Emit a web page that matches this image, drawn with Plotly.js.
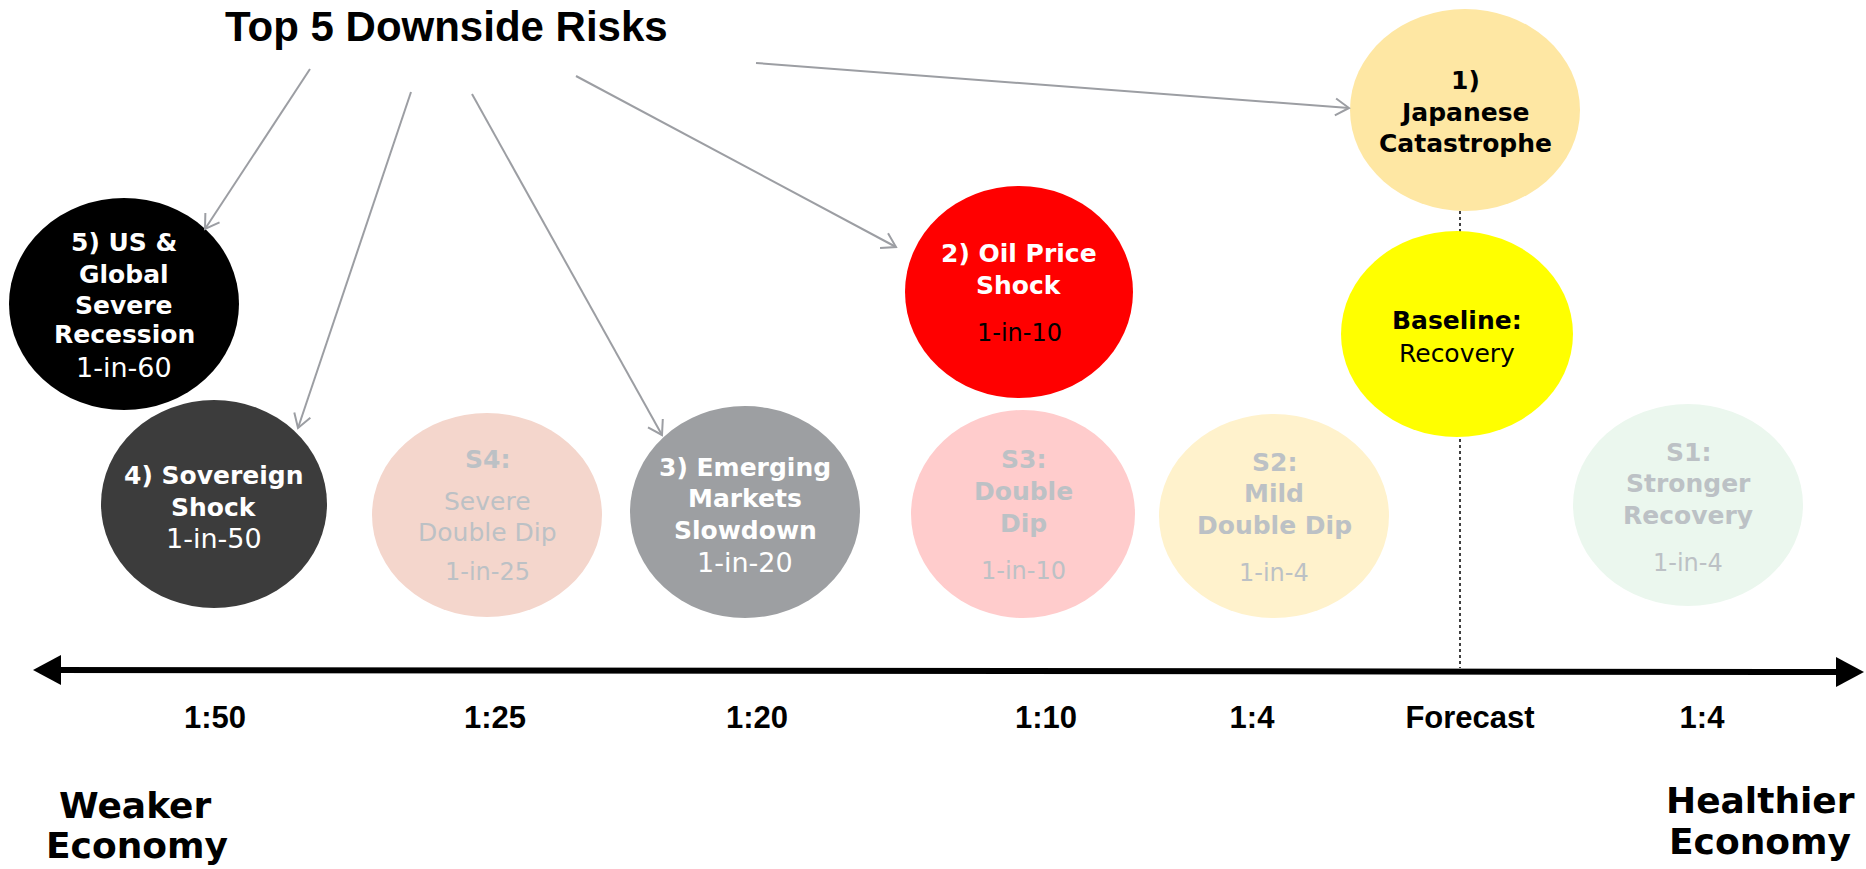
<!DOCTYPE html>
<html>
<head>
<meta charset="utf-8">
<script src="https://cdn.plot.ly/plotly-3.0.1.min.js"></script>
<style>
  html, body { margin: 0; padding: 0; background: #ffffff; overflow: hidden; }
  #chart { width: 1866px; height: 869px; }
</style>
</head>
<body>
<div id="chart"></div>
<script>
// ---- Data -------------------------------------------------------------
const chartTitle = 'Top 5 Downside Risks';

// Odds marked along the scale, weaker economy on the left
const oddsTicks = ['1:50', '1:25', '1:20', '1:10', '1:4', 'Forecast', '1:4'];

// Scenario names (one entry per line)
const scenarioNames = [
  ['4) Sovereign', 'Shock'],
  ['5) US &', 'Global', 'Severe', 'Recession'],
  ['S4:', 'Severe', 'Double Dip'],
  ['3) Emerging', 'Markets', 'Slowdown'],
  ['2) Oil Price', 'Shock'],
  ['S3:', 'Double', 'Dip'],
  ['S2:', 'Mild', 'Double Dip'],
  ['1)', 'Japanese', 'Catastrophe'],
  ['Baseline:', 'Recovery'],
  ['S1:', 'Stronger', 'Recovery']
];

// Probability of each scenario
const scenarioOdds = ['1-in-50', '1-in-60', '1-in-25', '1-in-20', '1-in-10', '1-in-10', '1-in-4', '', '', '1-in-4'];

// Labels at the two ends of the scale
const scaleEnds = [['Weaker', 'Economy'], ['Healthier', 'Economy']];

// ---- Layout (pixel space: x 0..1866 left to right, y 0..869 top to bottom)
const W = 1866, H = 869;
const tickX = [215, 495, 757, 1046, 1252, 1470, 1702];
const scaleY = [670, 672];           // left and right ends of the scale arrow
const scaleX = [33, 1864];
const forecastX = 1460;

const GREY_TXT = '#bcc1c5';
const bubbleStyle = [
  { cx: 214,  cy: 504, rx: 113, ry: 104, fill: '#3c3c3c', ink: '#ffffff', oddsInk: '#ffffff', bold: 2, lineY: [475, 507], oddsY: 538, oddsSize: 27 },
  { cx: 124,  cy: 304, rx: 115, ry: 106, fill: '#000000', ink: '#ffffff', oddsInk: '#ffffff', bold: 4, lineY: [242, 274, 305, 334], oddsY: 367, oddsSize: 27 },
  { cx: 487,  cy: 515, rx: 115, ry: 102, fill: '#f4d6cc', ink: GREY_TXT,  oddsInk: GREY_TXT,  bold: 1, lineY: [459, 501, 532], oddsY: 572, oddsSize: 24 },
  { cx: 745,  cy: 512, rx: 115, ry: 106, fill: '#9d9fa2', ink: '#ffffff', oddsInk: '#ffffff', bold: 3, lineY: [467, 498, 530], oddsY: 562, oddsSize: 27 },
  { cx: 1019, cy: 292, rx: 114, ry: 106, fill: '#ff0000', ink: '#ffffff', oddsInk: '#000000', bold: 2, lineY: [253, 285], oddsY: 333, oddsSize: 24 },
  { cx: 1023, cy: 514, rx: 112, ry: 104, fill: '#ffcccc', ink: GREY_TXT,  oddsInk: GREY_TXT,  bold: 3, lineY: [459, 491, 523], oddsY: 571, oddsSize: 24 },
  { cx: 1274, cy: 516, rx: 115, ry: 102, fill: '#fff2cc', ink: GREY_TXT,  oddsInk: GREY_TXT,  bold: 3, lineY: [462, 493, 525], oddsY: 573, oddsSize: 24 },
  { cx: 1465, cy: 110, rx: 115, ry: 101, fill: '#fee7a3', ink: '#000000', oddsInk: '#000000', bold: 3, lineY: [80, 112, 143], oddsY: null, oddsSize: 24 },
  { cx: 1457, cy: 334, rx: 116, ry: 103, fill: '#ffff00', ink: '#000000', oddsInk: '#000000', bold: 1, lineY: [320, 353], oddsY: null, oddsSize: 24 },
  { cx: 1688, cy: 505, rx: 115, ry: 101, fill: '#ebf7ee', ink: GREY_TXT,  oddsInk: GREY_TXT,  bold: 3, lineY: [452, 483, 515], oddsY: 563, oddsSize: 24 }
];

// Pointers from the heading to the five risk bubbles
const riskPointers = [
  { from: [310, 69], to: [205, 229] },
  { from: [411, 92], to: [298, 428] },
  { from: [472, 94], to: [662, 435] },
  { from: [576, 76], to: [896, 247] },
  { from: [756, 63], to: [1349, 108] }
];

const endLabelPos = [
  { x: [135, 137], y: [805, 845] },
  { x: [1760, 1760], y: [800, 841] }
];

const BUBBLE_FONT = 'DejaVu Sans, Verdana, sans-serif';
const HEAD_FONT = 'Liberation Sans, Arial, sans-serif';

// ---- Shapes -------------------------------------------------------------
const shapes = [];

// dotted forecast marker
shapes.push({
  type: 'line', xref: 'x', yref: 'y', layer: 'below',
  x0: forecastX, x1: forecastX, y0: 211, y1: scaleY[0] - 2,
  line: { color: '#000000', width: 1.5, dash: 'dot' }
});

bubbleStyle.forEach(b => {
  shapes.push({
    type: 'circle', xref: 'x', yref: 'y', layer: 'below',
    x0: b.cx - b.rx, x1: b.cx + b.rx, y0: b.cy - b.ry, y1: b.cy + b.ry,
    fillcolor: b.fill, line: { width: 0 }
  });
});

// open chevron at the end of a pointer: two arms swept back from the tip
function chevron(from, to, len, deg) {
  const dx = to[0] - from[0], dy = to[1] - from[1];
  const d = Math.hypot(dx, dy);
  const bx = -dx / d, by = -dy / d;          // unit vector pointing back along the line
  const a = deg * Math.PI / 180;
  const arm = s => {
    const c = Math.cos(s * a), sn = Math.sin(s * a);
    return [to[0] + len * (bx * c - by * sn), to[1] + len * (bx * sn + by * c)];
  };
  const p1 = arm(1), p2 = arm(-1);
  return 'M' + p1[0] + ',' + p1[1] + ' L' + to[0] + ',' + to[1] + ' L' + p2[0] + ',' + p2[1];
}
riskPointers.forEach(p => {
  shapes.push({
    type: 'line', xref: 'x', yref: 'y',
    x0: p.from[0], y0: p.from[1], x1: p.to[0], y1: p.to[1],
    line: { color: '#9c9ea3', width: 2 }
  });
  shapes.push({
    type: 'path', xref: 'x', yref: 'y',
    path: chevron(p.from, p.to, 16, 32),
    line: { color: '#9c9ea3', width: 2 }
  });
});

// the scale: thick double-headed arrow
shapes.push({
  type: 'line', xref: 'x', yref: 'y',
  x0: scaleX[0] + 20, y0: scaleY[0], x1: scaleX[1] - 20, y1: scaleY[1],
  line: { color: '#000000', width: 6 }
});
shapes.push({
  type: 'path', xref: 'x', yref: 'y', fillcolor: '#000000', line: { width: 0 },
  path: `M${scaleX[0]},${scaleY[0]} L${scaleX[0] + 28},${scaleY[0] - 15} L${scaleX[0] + 28},${scaleY[0] + 15} Z`
});
shapes.push({
  type: 'path', xref: 'x', yref: 'y', fillcolor: '#000000', line: { width: 0 },
  path: `M${scaleX[1]},${scaleY[1]} L${scaleX[1] - 28},${scaleY[1] - 15} L${scaleX[1] - 28},${scaleY[1] + 15} Z`
});

// ---- Annotations ----------------------------------------------------------
const annotations = [];
const txt = (x, y, text, family, size, color) => ({
  x, y, xref: 'x', yref: 'y', text, showarrow: false,
  xanchor: 'center', yanchor: 'middle',
  font: { family, size, color }
});

annotations.push(txt(446, 26, '<b>' + chartTitle + '</b>', HEAD_FONT, 42, '#000000'));

scenarioNames.forEach((lines, i) => {
  const b = bubbleStyle[i];
  lines.forEach((line, j) => {
    const t = j < b.bold ? '<b>' + line + '</b>' : line;
    annotations.push(txt(b.cx, b.lineY[j], t, BUBBLE_FONT, 25, b.ink));
  });
  if (scenarioOdds[i] && b.oddsY !== null) {
    annotations.push(txt(b.cx, b.oddsY, scenarioOdds[i], BUBBLE_FONT, b.oddsSize, b.oddsInk));
  }
});

scaleEnds.forEach((pair, i) => {
  pair.forEach((word, j) => {
    annotations.push(txt(endLabelPos[i].x[j], endLabelPos[i].y[j], '<b>' + word + '</b>', BUBBLE_FONT, 36, '#000000'));
  });
});

// ---- Plot -------------------------------------------------------------
const anchorTrace = {
  x: bubbleStyle.map(b => b.cx),
  y: bubbleStyle.map(b => b.cy),
  mode: 'markers',
  marker: { opacity: 0 },
  hoverinfo: 'skip',
  showlegend: false
};

const layout = {
  width: W, height: H,
  margin: { l: 0, r: 0, t: 0, b: 0, pad: 0 },
  paper_bgcolor: '#ffffff', plot_bgcolor: '#ffffff',
  showlegend: false,
  xaxis: {
    range: [0, W], anchor: 'free', position: (H - scaleY[0]) / H,
    showgrid: false, zeroline: false, showline: false, ticks: '',
    tickmode: 'array', tickvals: tickX, ticktext: oddsTicks.map(t => '<b>' + t + '</b>'),
    tickfont: { family: HEAD_FONT, size: 31, color: '#000000' },
    ticklabelstandoff: 26, fixedrange: true
  },
  yaxis: {
    range: [H, 0], visible: false, showgrid: false, zeroline: false, fixedrange: true
  },
  shapes, annotations
};

Plotly.newPlot('chart', [anchorTrace], layout, { displayModeBar: false, staticPlot: true });
</script>
</body>
</html>
